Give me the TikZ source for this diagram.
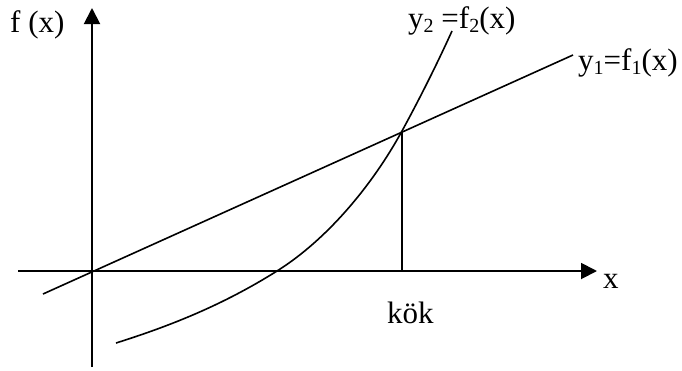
\documentclass[tikz,border=0pt]{standalone}
\usepackage{fontspec}
\setmainfont{Liberation Serif}
\usetikzlibrary{arrows.meta}
\newcommand\sbsc[1]{\raisebox{-0.16em}{\fontsize{20}{20}\selectfont #1}}
\tikzset{
  lbl/.style={inner sep=0pt, anchor=base west, font=\fontsize{31}{36}\selectfont},
  axis/.style={line width=1.9pt, -{Triangle[length=16pt,width=16pt]}},
  graph/.style={line width=1.6pt},
}
\begin{document}
\begin{tikzpicture}[x=1pt,y=-1pt]
\useasboundingbox (0,0) rectangle (682,370);
% axes
\coordinate (xs) at (18,271);
\coordinate (xe) at (597,271);
\coordinate (ys) at (92,367);
\coordinate (ye) at (92,8);
\draw[axis] (xs) -- (xe);
\draw[axis] (ys) -- (ye);
% line y1
\coordinate (l1) at (43,294);
\coordinate (l2) at (573,55);
\draw[graph] (l1) -- (l2);
% root
\coordinate (root) at (402,131);
\coordinate (rootx) at (402,271);
\draw[graph] (root) -- (rootx);
% curve y2
\coordinate (c0) at (116,343);
\coordinate (c1) at (277,271);
\coordinate (c2) at (452,31);
\draw[graph] (c0) .. controls (170,326) and (223,305) .. (c1)
                  .. controls (328,239) and (373,184) .. (root)
                  .. controls (420,98) and (437,64) .. (c2);
% labels
\node[lbl] (fx) at (10,32) {f (x)};
\node[lbl] (y2) at (408,28) {y\sbsc{2} =f\sbsc{2}(x)};
\node[lbl] (y1) at (578,70) {y\sbsc{1}=f\sbsc{1}(x)};
\node[lbl] (xl) at (603,288) {x};
\node[lbl] (kok) at (387,323) {kök};
\end{tikzpicture}
\end{document}
